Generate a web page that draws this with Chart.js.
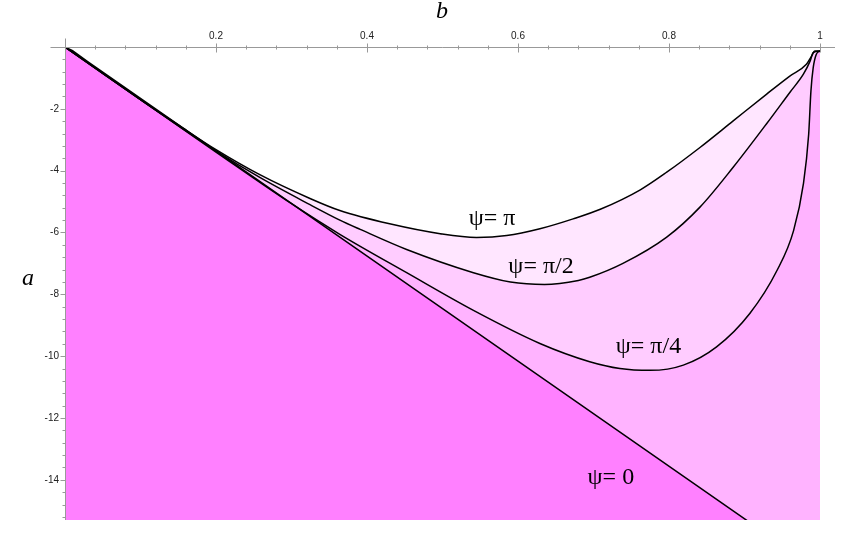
<!DOCTYPE html>
<html>
<head>
<meta charset="utf-8">
<script src="https://cdn.jsdelivr.net/npm/chart.js@4"></script>
<style>
  html, body { margin: 0; padding: 0; background: #fff; }
  #wrap { width: 842px; height: 545px; }
</style>
</head>
<body>
<div id="wrap"><canvas id="chart"></canvas></div>
<script>
// values: b along the top axis, a along the left axis
const zeroB = [0, 0.01, 0.03, 0.92];
const zeroA = [0, -0.12, -0.47, -15.6];

const quarterB = [0, 0.1, 0.2, 0.3, 0.364, 0.4525, 0.541, 0.629, 0.695, 0.735, 0.775, 0.819, 0.863, 0.907, 0.943, 0.965, 0.978, 0.985, 0.988, 0.991, 0.995, 1];
const quarterA = [0, -1.7, -3.4, -5.07, -6.06, -7.3, -8.52, -9.59, -10.18, -10.4, -10.46, -10.29, -9.7, -8.62, -7.23, -5.94, -4.43, -2.82, -1.42, -0.67, -0.24, -0.13];

const halfB = [0, 0.1, 0.2, 0.258, 0.3245, 0.364, 0.391, 0.4525, 0.541, 0.59, 0.635, 0.68, 0.695, 0.739, 0.797, 0.841, 0.885, 0.929, 0.96, 0.978, 0.987, 0.991, 1];
const halfA = [0, -1.7, -3.36, -4.22, -5.1, -5.6, -5.9, -6.55, -7.3, -7.6, -7.68, -7.55, -7.45, -7.0, -6.15, -5.18, -3.89, -2.49, -1.47, -0.88, -0.45, -0.18, -0.13];

const piB = [0, 0.05, 0.1, 0.15, 0.2, 0.258, 0.3245, 0.364, 0.43, 0.497, 0.545, 0.585, 0.629, 0.673, 0.709, 0.762, 0.797, 0.841, 0.885, 0.929, 0.96, 0.982, 0.989, 0.993, 1];
const piA = [0, -0.85, -1.7, -2.52, -3.32, -4.13, -4.9, -5.29, -5.72, -6.04, -6.16, -6.1, -5.88, -5.56, -5.25, -4.62, -4.05, -3.25, -2.39, -1.53, -0.94, -0.56, -0.29, -0.13, -0.13];

// curve labels and where they sit (data coordinates)
const curveLabels = ["ψ= π", "ψ= π/2", "ψ= π/4", "ψ= 0"];
const labelB = [0.5656, 0.6305, 0.7728, 0.723];
const labelA = [-5.55, -7.1, -9.71, -13.92];

const bTicks = [0.2, 0.4, 0.6, 0.8, 1];
const bTickLabels = ["0.2", "0.4", "0.6", "0.8", "1"];
const aTicks = [-14, -12, -10, -8, -6, -4, -2];
const bMinorStep = 0.04;
const aMinorStep = 0.4;
const aMin = -15.3;

function pts(xs, ys) {
  return xs.map((x, i) => ({ x: x, y: ys[i] }));
}

// axis lines and tick marks, drawn through the chart's own scales
const axesPlugin = {
  id: "axesMarks",
  afterDatasetsDraw(chart) {
    const { ctx, chartArea, scales } = chart;
    const xs = scales.x, ys = scales.y;
    const y0 = Math.round(ys.getPixelForValue(0)) + 0.5;
    const x0 = Math.round(xs.getPixelForValue(0)) + 0.5;
    const x1 = xs.getPixelForValue(1);

    ctx.save();
    ctx.strokeStyle = "#999";
    ctx.lineWidth = 1;
    ctx.beginPath();
    ctx.moveTo(x0 - 15, y0);
    ctx.lineTo(x1 + 15, y0);
    ctx.moveTo(x0, y0 - 9);
    ctx.lineTo(x0, chartArea.bottom);

    for (let v = bMinorStep; v < 1.0001; v += bMinorStep) {
      const px = Math.round(xs.getPixelForValue(v)) + 0.5;
      ctx.moveTo(px, y0 - 2);
      ctx.lineTo(px, y0 + 2);
    }
    bTicks.forEach(v => {
      const px = Math.round(xs.getPixelForValue(v)) + 0.5;
      ctx.moveTo(px, y0 - 4);
      ctx.lineTo(px, y0 + 5);
    });
    for (let v = -aMinorStep; v > aMin; v -= aMinorStep) {
      const py = Math.round(ys.getPixelForValue(v)) + 0.5;
      ctx.moveTo(x0 - 3, py);
      ctx.lineTo(x0, py);
    }
    aTicks.forEach(v => {
      const py = Math.round(ys.getPixelForValue(v)) + 0.5;
      ctx.moveTo(x0 - 5, py);
      ctx.lineTo(x0, py);
    });
    ctx.stroke();

    // curve labels
    ctx.fillStyle = "#000";
    ctx.font = "24px 'Liberation Serif'";
    ctx.textAlign = "center";
    ctx.textBaseline = "middle";
    curveLabels.forEach((t, i) => {
      ctx.fillText(t, xs.getPixelForValue(labelB[i]), ys.getPixelForValue(labelA[i]));
    });

    // axis names
    ctx.font = "italic 24px 'Liberation Serif'";
    ctx.fillText("b", 442, 12);
    ctx.fillText("a", 28, 279);
    ctx.restore();
  }
};

const lineStyle = {
  borderColor: "#000",
  borderWidth: 1.5,
  pointRadius: 0,
  fill: "start",
  cubicInterpolationMode: "monotone"
};

new Chart(document.getElementById("chart"), {
  type: "line",
  data: {
    datasets: [
      { ...lineStyle, label: "ψ=0", data: pts(zeroB, zeroA), backgroundColor: "#ff80ff", cubicInterpolationMode: "default", tension: 0 },
      { ...lineStyle, label: "ψ=π/4", data: pts(quarterB, quarterA), backgroundColor: "#ffb3ff" },
      { ...lineStyle, label: "ψ=π/2", data: pts(halfB, halfA), backgroundColor: "#ffccff" },
      { ...lineStyle, label: "ψ=π", data: pts(piB, piA), backgroundColor: "#ffe6ff" }
    ]
  },
  options: {
    responsive: true,
    maintainAspectRatio: false,
    animation: false,
    layout: { padding: { left: 0, right: 22, top: 0, bottom: 25 } },
    plugins: {
      legend: { display: false },
      tooltip: { enabled: false },
      filler: { drawTime: "beforeDatasetsDraw" }
    },
    scales: {
      x: {
        type: "linear",
        position: "top",
        min: 0,
        max: 1,
        afterBuildTicks: s => { s.ticks = bTicks.map(v => ({ value: v })); },
        afterFit: s => { s.height = 47; },
        grid: { display: false, drawTicks: false },
        border: { display: false },
        ticks: {
          padding: 5,
          color: "#222",
          font: { family: "'Liberation Sans'", size: 10 },
          maxRotation: 0,
          callback: v => bTickLabels[bTicks.indexOf(v)]
        }
      },
      y: {
        type: "linear",
        min: aMin,
        max: 0,
        afterBuildTicks: s => { s.ticks = aTicks.map(v => ({ value: v })); },
        afterFit: s => { s.width = 65; },
        grid: { display: false, drawTicks: false },
        border: { display: false },
        ticks: {
          padding: 6,
          color: "#222",
          font: { family: "'Liberation Sans'", size: 10 },
          callback: v => String(v)
        }
      }
    }
  },
  plugins: [axesPlugin]
});
</script>
</body>
</html>
